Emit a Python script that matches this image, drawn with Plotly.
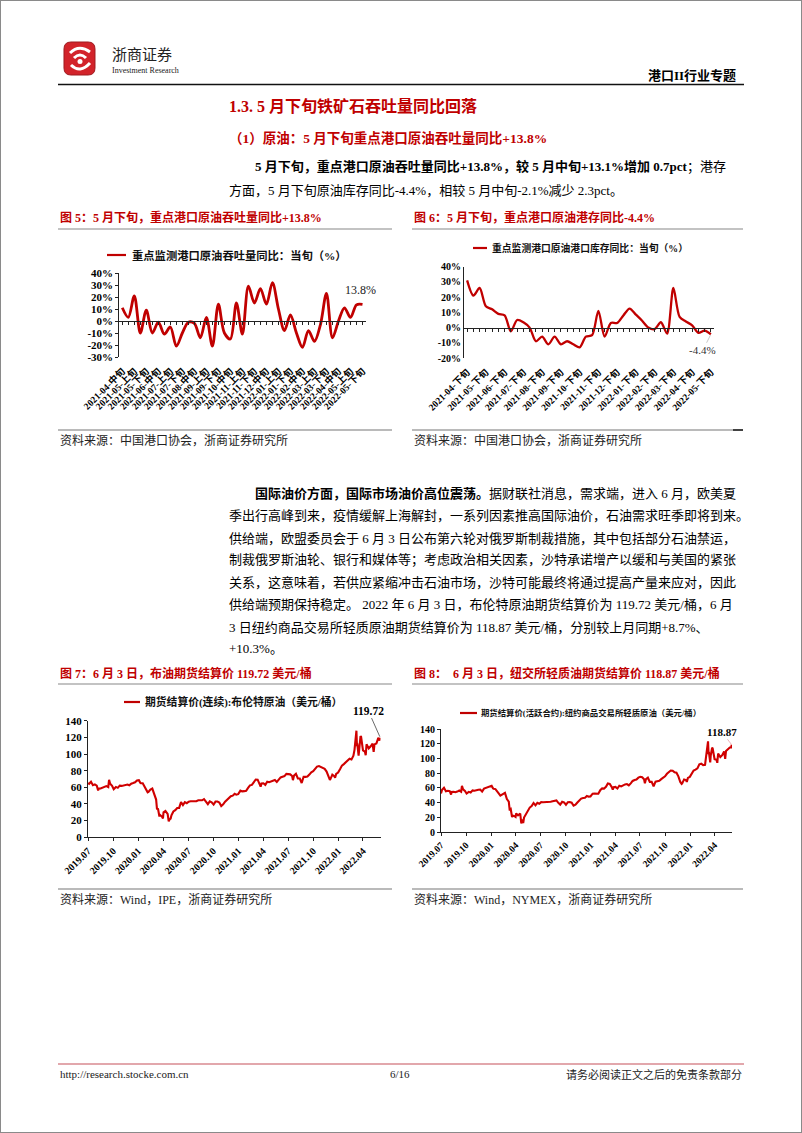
import plotly.graph_objects as go

W, H = 802, 1133
def X(px): return px / W
def Y(py): return 1 - py / H

RED = '#C00000'
SERIF = 'Liberation Serif, Noto Sans CJK SC, serif'

# ---------------- Figure 5: throughput yoy ----------------
thru_cats = ['2021-04-中旬', '2021-04-下旬', '2021-05-上旬', '2021-05-中旬', '2021-05-下旬',
             '2021-06-上旬', '2021-06-中旬', '2021-06-下旬', '2021-07-上旬', '2021-07-中旬', '2021-07-下旬',
             '2021-08-上旬', '2021-08-中旬', '2021-08-下旬', '2021-09-上旬', '2021-09-中旬', '2021-09-下旬',
             '2021-10-上旬', '2021-10-中旬', '2021-10-下旬', '2021-11-上旬', '2021-11-中旬', '2021-11-下旬',
             '2021-12-上旬', '2021-12-中旬', '2021-12-下旬', '2022-01-上旬', '2022-01-中旬', '2022-01-下旬',
             '2022-02-上旬', '2022-02-中旬', '2022-02-下旬', '2022-03-上旬', '2022-03-中旬', '2022-03-下旬',
             '2022-04-上旬', '2022-04-中旬', '2022-04-下旬', '2022-05-上旬', '2022-05-中旬', '2022-05-下旬']
thru_vals = [11, 3, 21, -10, 9, -10, -1, -11, -5, -21,
             -10, -1, -2, -14, 3, -21, 14, -10, -15, 15,
             -11, 29, 15, 27, 14, 32, 10, -8, 5, -10,
             -22, -8, -17, -3, 23, -14, 0, 11, 3, 13.5, 13.8]
thru_yticks = [-30, -20, -10, 0, 10, 20, 30, 40]
thru_ytext = ['-30%', '-20%', '-10%', '0%', '10%', '20%', '30%', '40%']

# ---------------- Figure 6: port stock yoy ----------------
stock_cats = ['2021-04-下旬', '2021-05-上旬', '2021-05-中旬', '2021-05-下旬',
              '2021-06-上旬', '2021-06-中旬', '2021-06-下旬', '2021-07-上旬', '2021-07-中旬', '2021-07-下旬',
              '2021-08-上旬', '2021-08-中旬', '2021-08-下旬', '2021-09-上旬', '2021-09-中旬', '2021-09-下旬',
              '2021-10-上旬', '2021-10-中旬', '2021-10-下旬', '2021-11-上旬', '2021-11-中旬', '2021-11-下旬',
              '2021-12-上旬', '2021-12-中旬', '2021-12-下旬', '2022-01-上旬', '2022-01-中旬', '2022-01-下旬',
              '2022-02-上旬', '2022-02-中旬', '2022-02-下旬', '2022-03-上旬', '2022-03-中旬', '2022-03-下旬',
              '2022-04-上旬', '2022-04-中旬', '2022-04-下旬', '2022-05-上旬', '2022-05-中旬', '2022-05-下旬']
stock_vals = [31, 21, 26, 14, 12, 9, 8, -2.5, 5, 3.5,
              0, -9, -6, -11, -6, -11, -9, -11, -13, -6,
              -5, 11, -6, 3, 3, 8, 12.5, 8.5, 4.5, 0,
              -1, 3.5, -4, 26, 7, 4, 1.5, -3.5, -2, -4.4]
stock_yticks = [-20, -10, 0, 10, 20, 30, 40]
stock_ytext = ['-20%', '-10%', '0%', '10%', '20%', '30%', '40%']

# ---------------- Figures 7 & 8: futures settlement prices ----------------
dates_2019 = ['2019-07-01', '2019-07-05', '2019-07-12', '2019-07-19', '2019-07-26', '2019-08-02', '2019-08-07',
              '2019-08-09', '2019-08-16', '2019-08-23', '2019-08-30', '2019-09-06', '2019-09-13', '2019-09-16',
              '2019-09-20', '2019-09-27', '2019-10-03', '2019-10-11', '2019-10-18', '2019-10-25', '2019-11-01',
              '2019-11-08', '2019-11-15', '2019-11-22', '2019-11-29', '2019-12-06', '2019-12-13', '2019-12-20',
              '2019-12-27']
brent_2019 = [65.1, 64.2, 66.7, 62.5, 63.5, 61.9, 56.2, 58.5, 58.6, 59.3, 60.4, 61.5, 60.2, 69.0, 64.3,
              61.9, 57.7, 60.5, 59.4, 62.0, 61.7, 62.5, 63.3, 63.4, 62.4, 64.4, 65.2, 66.1, 68.2]
wti_2019 = [52.5, 57.5, 60.2, 55.6, 56.2, 55.7, 51.1, 54.5, 54.9, 54.2, 55.1, 56.5, 54.9, 62.9, 58.1,
            55.9, 52.5, 54.7, 53.8, 56.7, 56.2, 57.2, 57.7, 57.8, 55.2, 59.2, 60.1, 60.4, 61.7]

dates_2020 = ['2020-01-03', '2020-01-08', '2020-01-10', '2020-01-17', '2020-01-24', '2020-01-31',
              '2020-02-04', '2020-02-07', '2020-02-14', '2020-02-21', '2020-02-28',
              '2020-03-06', '2020-03-09', '2020-03-13', '2020-03-18', '2020-03-20', '2020-03-27', '2020-03-31',
              '2020-04-02', '2020-04-09', '2020-04-17', '2020-04-21', '2020-04-24', '2020-04-28',
              '2020-05-01', '2020-05-08', '2020-05-15', '2020-05-22', '2020-05-29',
              '2020-06-05', '2020-06-12', '2020-06-19', '2020-06-26',
              '2020-07-03', '2020-07-10', '2020-07-17', '2020-07-24', '2020-07-31',
              '2020-08-07', '2020-08-14', '2020-08-21', '2020-08-28',
              '2020-09-04', '2020-09-11', '2020-09-18', '2020-09-25',
              '2020-10-02', '2020-10-09', '2020-10-16', '2020-10-23', '2020-10-30',
              '2020-11-06', '2020-11-13', '2020-11-20', '2020-11-27',
              '2020-12-04', '2020-12-11', '2020-12-18', '2020-12-24', '2020-12-31']
brent_2020 = [68.6, 65.4, 65.0, 64.9, 60.7, 58.2,
              54.0, 54.5, 57.3, 58.5, 50.5,
              45.3, 34.4, 33.9, 24.9, 27.0, 24.9, 22.7,
              29.9, 31.5, 28.1, 19.3, 21.4, 22.5,
              26.4, 31.0, 32.5, 35.1, 35.3,
              42.3, 38.7, 42.2, 41.0,
              42.8, 43.2, 43.1, 43.3, 43.3,
              44.4, 44.8, 44.4, 45.8,
              42.7, 39.8, 43.2, 41.9,
              39.3, 42.9, 42.9, 41.8, 37.5,
              39.5, 42.8, 45.0, 48.2,
              49.3, 50.0, 52.3, 51.3, 51.8]
wti_2020 = [63.1, 59.6, 59.0, 58.5, 54.2, 51.6,
            49.6, 50.3, 52.1, 53.4, 44.8,
            41.3, 31.1, 31.7, 20.4, 22.4, 21.5, 20.5,
            25.3, 22.8, 25.0, 11.6, 17.0, 12.3,
            19.8, 24.7, 29.4, 33.3, 35.5,
            39.6, 36.3, 39.8, 38.5,
            40.7, 40.6, 40.6, 41.3, 40.3,
            41.2, 42.0, 42.3, 43.0,
            39.8, 37.3, 41.1, 40.3,
            37.1, 40.6, 40.9, 39.9, 35.8,
            37.1, 40.1, 42.4, 45.5,
            46.3, 46.6, 49.1, 48.2, 48.5]

dates_2021 = ['2021-01-08', '2021-01-15', '2021-01-22', '2021-01-29',
              '2021-02-05', '2021-02-12', '2021-02-19', '2021-02-26',
              '2021-03-05', '2021-03-12', '2021-03-19', '2021-03-23', '2021-03-26',
              '2021-04-02', '2021-04-09', '2021-04-16', '2021-04-23', '2021-04-30',
              '2021-05-07', '2021-05-14', '2021-05-21', '2021-05-28',
              '2021-06-04', '2021-06-11', '2021-06-18', '2021-06-25',
              '2021-07-02', '2021-07-09', '2021-07-16', '2021-07-19', '2021-07-23', '2021-07-30',
              '2021-08-06', '2021-08-13', '2021-08-20', '2021-08-27',
              '2021-09-03', '2021-09-10', '2021-09-17', '2021-09-24',
              '2021-10-01', '2021-10-08', '2021-10-15', '2021-10-22', '2021-10-29',
              '2021-11-05', '2021-11-12', '2021-11-19', '2021-11-26',
              '2021-12-01', '2021-12-03', '2021-12-10', '2021-12-17', '2021-12-20', '2021-12-24', '2021-12-31']
brent_2021 = [56.0, 55.1, 55.4, 55.9,
              59.3, 62.4, 62.9, 66.1,
              69.4, 69.2, 64.5, 60.8, 64.6,
              64.9, 63.0, 66.8, 66.1, 67.3,
              68.3, 68.7, 66.4, 69.6,
              71.9, 72.7, 73.5, 76.2,
              76.2, 75.6, 73.6, 68.6, 74.1, 76.3,
              70.7, 70.6, 65.2, 72.7,
              72.6, 72.9, 75.3, 78.1,
              79.3, 82.4, 84.9, 85.5, 84.4,
              82.7, 82.2, 78.9, 72.7,
              68.9, 69.9, 75.2, 73.5, 71.5, 76.1, 77.8]
wti_2021 = [52.2, 52.4, 52.3, 52.2,
            56.9, 59.5, 59.2, 61.5,
            66.1, 65.6, 61.4, 57.8, 61.0,
            61.5, 59.3, 63.1, 62.1, 63.6,
            64.9, 65.4, 63.6, 66.3,
            69.6, 70.9, 71.6, 74.1,
            75.2, 74.6, 71.8, 66.4, 72.1, 74.0,
            68.3, 68.4, 62.3, 68.7,
            69.3, 69.7, 72.0, 74.0,
            75.9, 79.4, 82.3, 83.8, 83.6,
            81.3, 80.8, 75.9, 68.2,
            65.6, 66.3, 71.7, 70.9, 68.2, 73.8, 75.2]

dates_2022 = ['2022-01-07', '2022-01-14', '2022-01-21', '2022-01-28',
              '2022-02-04', '2022-02-11', '2022-02-18', '2022-02-25',
              '2022-03-01', '2022-03-04', '2022-03-08', '2022-03-10', '2022-03-11', '2022-03-16',
              '2022-03-18', '2022-03-23', '2022-03-25',
              '2022-04-01', '2022-04-08', '2022-04-11', '2022-04-14', '2022-04-22', '2022-04-29',
              '2022-05-06', '2022-05-10', '2022-05-13', '2022-05-20', '2022-05-27',
              '2022-06-01', '2022-06-03']
brent_2022 = [81.8, 86.1, 87.9, 90.0,
              93.3, 94.4, 93.5, 97.9,
              105.0, 118.1, 128.0, 109.3, 112.7, 98.0, 107.9, 121.6, 120.7,
              104.4, 102.8, 98.5, 111.7, 106.7, 109.3,
              112.4, 102.5, 111.6, 112.6, 119.4,
              116.3, 119.72]
wti_2022 = [78.9, 83.8, 85.1, 86.8,
            92.3, 93.1, 91.1, 91.6,
            103.4, 115.7, 123.7, 106.0, 109.3, 95.0, 104.7, 114.9, 113.9,
            99.3, 98.3, 94.3, 107.0, 102.1, 104.7,
            109.8, 99.8, 110.5, 113.2, 115.1,
            115.3, 118.87]

fut_dates = dates_2019 + dates_2020 + dates_2021 + dates_2022
brent_vals = brent_2019 + brent_2020 + brent_2021 + brent_2022
wti_vals = wti_2019 + wti_2020 + wti_2021 + wti_2022

fut_tickvals = ['2019-07-01', '2019-10-01', '2020-01-01', '2020-04-01', '2020-07-01', '2020-10-01',
                '2021-01-01', '2021-04-01', '2021-07-01', '2021-10-01', '2022-01-01', '2022-04-01']
fut_ticktext = ['2019.07', '2019.10', '2020.01', '2020.04', '2020.07', '2020.10',
                '2021.01', '2021.04', '2021.07', '2021.10', '2022.01', '2022.04']
price_yticks = [0, 20, 40, 60, 80, 100, 120, 140]

# ---------------- plot areas (pixels) ----------------
P1 = dict(l=119.3, r=365.5, t=273, b=357, ymin=-30, ymax=40)
P2 = dict(l=464, r=714, t=266.7, b=358, ymin=-20, ymax=40)
P3 = dict(l=88, r=380.5, t=720.7, b=837.3)
P4 = dict(l=441, r=732, t=729.3, b=832)

def dom_x(p): return [X(p['l']), X(p['r'])]
def dom_y(p): return [Y(p['b']), Y(p['t'])]
def zero_pos(p):
    yb, yt = Y(p['b']), Y(p['t'])
    return yb + (0 - p['ymin']) / (p['ymax'] - p['ymin']) * (yt - yb)

fig = go.Figure()

fig.add_trace(go.Scatter(x=thru_cats, y=thru_vals, xaxis='x', yaxis='y', mode='lines',
                         line=dict(color=RED, width=2.8, shape='spline', smoothing=0.9),
                         hoverinfo='skip', showlegend=False))
fig.add_trace(go.Scatter(x=thru_cats, y=thru_vals, xaxis='x5', yaxis='y', mode='none',
                         hoverinfo='skip', showlegend=False))
fig.add_trace(go.Scatter(x=stock_cats, y=stock_vals, xaxis='x2', yaxis='y2', mode='lines',
                         line=dict(color=RED, width=2.3, shape='spline', smoothing=0.8),
                         hoverinfo='skip', showlegend=False))
fig.add_trace(go.Scatter(x=stock_cats, y=stock_vals, xaxis='x6', yaxis='y2', mode='none',
                         hoverinfo='skip', showlegend=False))
fig.add_trace(go.Scatter(x=fut_dates, y=brent_vals, xaxis='x3', yaxis='y3', mode='lines',
                         line=dict(color='#D00000', width=2.1),
                         hoverinfo='skip', showlegend=False))
fig.add_trace(go.Scatter(x=fut_dates, y=wti_vals, xaxis='x4', yaxis='y4', mode='lines',
                         line=dict(color='#D00000', width=2.1),
                         hoverinfo='skip', showlegend=False))

def tf(size):
    return dict(family=SERIF, size=size, color='black', weight='bold')

common = dict(showgrid=False, zeroline=False, fixedrange=True, automargin=False)

fig.update_layout(
    width=W, height=H, margin=dict(l=0, r=0, t=0, b=0, pad=0, autoexpand=False), autosize=False,
    paper_bgcolor='white', plot_bgcolor='white', hovermode=False, showlegend=False,
    font=dict(family=SERIF, color='black'),
    # chart 1
    xaxis=dict(domain=dom_x(P1), anchor='y', type='category', categoryorder='array',
               categoryarray=thru_cats, range=[-0.5, len(thru_cats) - 0.5],
               tickmode='array', tickvals=thru_cats[::2], tickangle=-45, tickfont=tf(9.5),
               showline=False, ticks='', ticklabelstandoff=6, **common),
    xaxis5=dict(domain=dom_x(P1), overlaying='x', anchor='free', position=zero_pos(P1),
                type='category', categoryorder='array', categoryarray=thru_cats,
                range=[-0.5, len(thru_cats) - 0.5], tickmode='array', tickvals=thru_cats,
                showticklabels=False, showline=True, linecolor='#222', linewidth=1,
                ticks='outside', ticklen=3, tickcolor='#222', tickwidth=1, **common),
    yaxis=dict(domain=dom_y(P1), anchor='x', range=[P1['ymin'], P1['ymax']],
               tickmode='array', tickvals=thru_yticks, ticktext=thru_ytext, tickfont=tf(11),
               showline=True, linecolor='#222', linewidth=1, ticks='outside', ticklen=3,
               tickcolor='#222', **common),
    # chart 2
    xaxis2=dict(domain=dom_x(P2), anchor='y2', type='category', categoryorder='array',
                categoryarray=stock_cats, range=[-0.5, len(stock_cats) - 0.5],
                tickmode='array', tickvals=stock_cats[::3], tickangle=-45, tickfont=tf(9.5),
                showline=False, ticks='', ticklabelstandoff=6, **common),
    xaxis6=dict(domain=dom_x(P2), overlaying='x2', anchor='free', position=zero_pos(P2),
                type='category', categoryorder='array', categoryarray=stock_cats,
                range=[-0.5, len(stock_cats) - 0.5], tickmode='array', tickvals=stock_cats,
                showticklabels=False, showline=True, linecolor='#222', linewidth=1,
                ticks='outside', ticklen=3, tickcolor='#222', tickwidth=1, **common),
    yaxis2=dict(domain=dom_y(P2), anchor='x2', range=[P2['ymin'], P2['ymax']],
                tickmode='array', tickvals=stock_yticks, ticktext=stock_ytext, tickfont=tf(10),
                showline=True, linecolor='#222', linewidth=1, ticks='', **common),
    # chart 3
    xaxis3=dict(domain=dom_x(P3), anchor='y3', type='date', range=['2019-07-01', '2022-06-04'],
                tickmode='array', tickvals=fut_tickvals, ticktext=fut_ticktext, tickangle=-45,
                tickfont=tf(10), showline=True, linecolor='#222', linewidth=1,
                ticks='outside', ticklen=3, tickcolor='#222', **common),
    yaxis3=dict(domain=dom_y(P3), anchor='x3', range=[0, 140], tickmode='array',
                tickvals=price_yticks, tickfont=tf(11), showline=True, linecolor='#222',
                linewidth=1, ticks='outside', ticklen=3, tickcolor='#222', **common),
    # chart 4
    xaxis4=dict(domain=dom_x(P4), anchor='y4', type='date', range=['2019-07-01', '2022-06-04'],
                tickmode='array', tickvals=fut_tickvals, ticktext=fut_ticktext, tickangle=-45,
                tickfont=tf(9.5), showline=True, linecolor='#222', linewidth=1,
                ticks='outside', ticklen=3, tickcolor='#222', **common),
    yaxis4=dict(domain=dom_y(P4), anchor='x4', range=[0, 140], tickmode='array',
                tickvals=price_yticks, tickfont=tf(10), showline=True, linecolor='#222',
                linewidth=1, ticks='outside', ticklen=3, tickcolor='#222', **common),
)

# ---------------- page decoration ----------------
shapes = []
def hline(x0, x1, y, color, width):
    shapes.append(dict(type='line', xref='paper', yref='paper', x0=X(x0), x1=X(x1),
                       y0=Y(y), y1=Y(y), line=dict(color=color, width=width)))

shapes.append(dict(type='rect', xref='paper', yref='paper', x0=0, x1=1, y0=0, y1=1,
                   line=dict(color='#8a8a8a', width=2)))
hline(58, 744, 84.5, '#111', 1.5)          # header rule
hline(58, 392, 229, '#888', 1.2)           # fig5 title rule
hline(412, 743, 229, '#888', 1.2)          # fig6 title rule
hline(58, 392, 430, '#777', 1.2)           # fig5 source rule
hline(412, 743, 430, '#777', 1.2)          # fig6 source rule
hline(733, 743, 430, '#222', 1.6)
hline(58, 392, 684, '#888', 1.2)           # fig7 title rule
hline(412, 743, 684, '#888', 1.2)          # fig8 title rule
hline(58, 392, 889, '#777', 1.2)           # fig7 source rule
hline(412, 743, 889, '#777', 1.2)          # fig8 source rule
hline(58, 744, 1064, '#D98A90', 1.5)       # footer rule
# legend samples
hline(107, 126, 255, RED, 2.2)
hline(473, 487, 248, RED, 2.2)
hline(124, 140, 702, RED, 2.2)
hline(460, 477, 713, RED, 2.2)

def path(points_cmds):
    out = []
    for cmd, pts in points_cmds:
        coords = ' '.join(f'{X(a):.5f},{Y(b):.5f}' for a, b in pts)
        out.append(f'{cmd} {coords}')
    return ' '.join(out) + ' Z'

x0, y0, x1, y1, r = 64, 42, 95, 75, 7
logo = path([('M', [(x0 + r, y0)]), ('L', [(x1 - r, y0)]), ('Q', [(x1, y0), (x1, y0 + r)]),
             ('L', [(x1, y1 - r)]), ('Q', [(x1, y1), (x1 - r, y1)]), ('L', [(x0 + r, y1)]),
             ('Q', [(x0, y1), (x0, y1 - r)]), ('L', [(x0, y0 + r)]), ('Q', [(x0, y0), (x0 + r, y0)])])
shapes.append(dict(type='path', xref='paper', yref='paper', path=logo,
                   fillcolor='#D2232A', line=dict(color='#9E1A1F', width=1)))
for seg in ([(70, 53), (79, 44), (90, 52)], [(71, 65), (80, 74), (90, 63)], [(74, 58), (80, 52), (86, 58)]):
    p = f'M {X(seg[0][0]):.5f},{Y(seg[0][1]):.5f} Q {X(seg[1][0]):.5f},{Y(seg[1][1]):.5f} {X(seg[2][0]):.5f},{Y(seg[2][1]):.5f}'
    shapes.append(dict(type='path', xref='paper', yref='paper', path=p,
                       line=dict(color='white', width=3)))
shapes.append(dict(type='circle', xref='paper', yref='paper', x0=X(77.5), x1=X(82.5),
                   y0=Y(64), y1=Y(59), fillcolor='white', line=dict(color='white', width=0)))

fig.update_layout(shapes=shapes)

# ---------------- text ----------------
anns = []
def txt(x, y, s, size, color='black', bold=False, anchor='left'):
    anns.append(dict(x=X(x), y=Y(y), xref='paper', yref='paper', text=s, showarrow=False,
                     xanchor=anchor, yanchor='middle',
                     font=dict(family=SERIF, size=size, color=color,
                               weight='bold' if bold else 'normal')))

# header
txt(110, 55, '浙商证券', 15, '#222')
txt(110, 70, 'Investment Research', 8, '#222')
txt(738, 76, '港口II行业专题', 13, 'black', True, 'right')

# section
txt(227, 106, '1.3. 5 月下旬铁矿石吞吐量同比回落', 16, RED, True)
txt(227, 138, '（1）原油：5 月下旬重点港口原油吞吐量同比+13.8%', 13.5, RED, True)
txt(253, 167, '<b>5 月下旬，重点港口原油吞吐量同比+13.8%，较 5 月中旬+13.1%增加 0.7pct</b>；港存', 13)
txt(227, 190, '方面，5 月下旬原油库存同比-4.4%，相较 5 月中旬-2.1%减少 2.3pct。', 13)

# figure titles
txt(58, 217, '图 5：5 月下旬，重点港口原油吞吐量同比+13.8%', 12, RED, True)
txt(412, 217, '图 6：5 月下旬，重点港口原油港存同比-4.4%', 12, RED, True)
txt(58, 673, '图 7：6 月 3 日，布油期货结算价 119.72 美元/桶', 12, RED, True)
txt(412, 673, '图 8：  6 月 3 日，纽交所轻质油期货结算价 118.87 美元/桶', 12, RED, True)

# legends
txt(130, 255, '重点监测港口原油吞吐量同比：当旬（%）', 11.3, '#111', True)
txt(490, 248, '重点监测港口原油港口库存同比：当旬（%）', 9.8, '#111', True)
txt(143, 702, '期货结算价(连续):布伦特原油（美元/桶）', 10.8, '#111', True)
txt(479, 713, '期货结算价(活跃合约):纽约商品交易所轻质原油（美元/桶）', 8.4, '#111', True)

# sources
txt(58, 440, '资料来源：中国港口协会，浙商证券研究所', 12, '#222')
txt(412, 440, '资料来源：中国港口协会，浙商证券研究所', 12, '#222')
txt(58, 899, '资料来源：Wind，IPE，浙商证券研究所', 12, '#222')
txt(412, 899, '资料来源：Wind，NYMEX，浙商证券研究所', 12, '#222')

# paragraph 2
para2 = [
    (253, 493, '<b>国际油价方面，国际市场油价高位震荡。</b>据财联社消息，需求端，进入 6 月，欧美夏'),
    (227, 516, '季出行高峰到来，疫情缓解上海解封，一系列因素推高国际油价，石油需求旺季即将到来。'),
    (227, 538, '供给端，欧盟委员会于 6 月 3 日公布第六轮对俄罗斯制裁措施，其中包括部分石油禁运，'),
    (227, 560, '制裁俄罗斯油轮、银行和媒体等；考虑政治相关因素，沙特承诺增产以缓和与美国的紧张'),
    (227, 582, '关系，这意味着，若供应紧缩冲击石油市场，沙特可能最终将通过提高产量来应对，因此'),
    (227, 604, '供给端预期保持稳定。 2022 年 6 月 3 日，布伦特原油期货结算价为 119.72 美元/桶，6 月'),
    (227, 627, '3 日纽约商品交易所轻质原油期货结算价为 118.87 美元/桶，分别较上月同期+8.7%、'),
    (227, 648, '+10.3%。'),
]
for x, y, s in para2:
    txt(x, y, s, 13)

# footer
txt(58, 1074, 'http://research.stocke.com.cn', 11, '#222')
txt(400, 1074, '6/16', 11, '#222', False, 'center')
txt(744, 1074, '请务必阅读正文之后的免责条款部分', 11, '#222', False, 'right')

# data labels
anns.append(dict(x=thru_cats[-1], y=thru_vals[-1], xref='x', yref='y', text=f'{thru_vals[-1]}%',
                 showarrow=False, yshift=14, xshift=-2,
                 font=dict(family=SERIF, size=12, color='#222')))
anns.append(dict(x=stock_cats[-1], y=stock_vals[-1], xref='x2', yref='y2', text=f'{stock_vals[-1]}%',
                 showarrow=True, arrowhead=0, arrowwidth=0.8, arrowcolor='#BBBBBB', ax=-8, ay=16,
                 standoff=1, font=dict(family=SERIF, size=11, color='#333')))
anns.append(dict(x=fut_dates[-1], y=brent_vals[-1], xref='x3', yref='y3', text=f'{brent_vals[-1]}',
                 showarrow=True, arrowhead=0, arrowwidth=0.8, arrowcolor='#444', ax=-12, ay=-27,
                 standoff=1, font=dict(family=SERIF, size=11.5, color='black', weight='bold')))
anns.append(dict(x=fut_dates[-1], y=wti_vals[-1], xref='x4', yref='y4', text=f'{wti_vals[-1]}',
                 showarrow=True, arrowhead=0, arrowwidth=0.8, arrowcolor='#E8A0A8', ax=-10, ay=-13,
                 standoff=1, font=dict(family=SERIF, size=11, color='black', weight='bold')))

fig.update_layout(annotations=anns)

fig.write_html('out.html', config={'displayModeBar': False, 'staticPlot': True})
